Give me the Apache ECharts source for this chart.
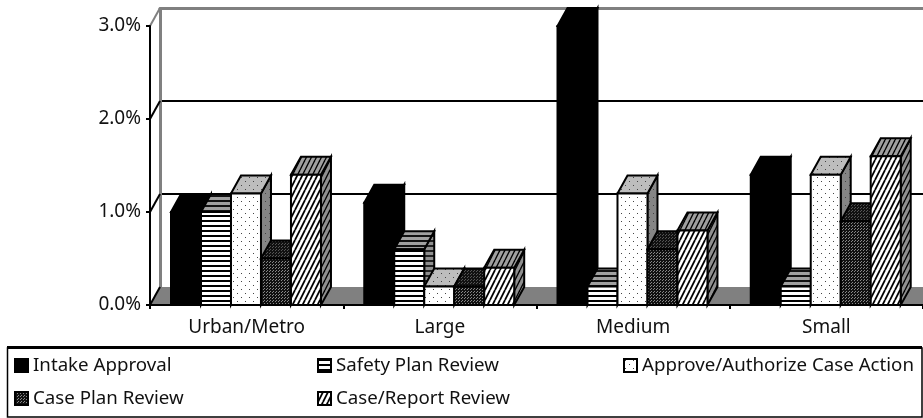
<!DOCTYPE html>
<html>
<head>
<meta charset="utf-8">
<style>html,body{margin:0;padding:0;background:#fff;overflow:hidden}#chart{width:923px;height:418px}</style>
<script src="https://cdn.jsdelivr.net/npm/echarts@6/dist/echarts.min.js"></script>
</head>
<body>
<div id="chart"></div>
<script>
// Review rates by county size, in percent
const categories = ['Urban/Metro', 'Large', 'Medium', 'Small'];
const intakeApproval = [1.0, 1.1, 3.0, 1.4];
const safetyPlanReview = [1.0, 0.6, 0.2, 0.2];
const approveAuthorize = [1.2, 0.2, 1.2, 1.4];
const casePlanReview = [0.5, 0.2, 0.6, 0.9];
const caseReportReview = [1.4, 0.4, 0.8, 1.6];
const yTicks = [0, 1, 2, 3];

const FONT = 'Noto Sans';
const AXIS_FONT_SIZE = 19;
const LEGEND_FONT_SIZE = 18.7;

// Oblique extrusion of the 3D box look
const DEPTH_X = 10;
const DEPTH_Y = -18;
const BAR_SHARE = 0.1552;
const SIDE_MARGIN = 0.1087;

function tile(w, h, bg, paint) {
  const c = document.createElement('canvas');
  c.width = w; c.height = h;
  const g = c.getContext('2d');
  g.fillStyle = bg; g.fillRect(0, 0, w, h);
  g.fillStyle = '#000';
  paint(g);
  return { image: c, repeat: 'repeat' };
}
function stripes(bg, ink) {
  return tile(5, 5, bg, g => { g.fillStyle = ink; g.fillRect(0, 0, 5, 2); });
}
function dots(bg) {
  return tile(8, 8, bg, g => { g.fillStyle = '#444'; g.fillRect(1, 1, 1, 1); g.fillRect(5, 5, 1, 1); });
}
function dense(bg) {
  return tile(3, 3, '#111', g => { g.fillStyle = bg; g.fillRect(0, 0, 1, 1); g.fillRect(2, 1, 1, 1); });
}
function hatch(bg, width) {
  const c = document.createElement('canvas');
  c.width = 5; c.height = 10;
  const g = c.getContext('2d');
  g.fillStyle = bg; g.fillRect(0, 0, 5, 10);
  g.strokeStyle = '#000'; g.lineWidth = width;
  for (let k = -5; k <= 5; k += 5) {
    g.beginPath(); g.moveTo(k, 10); g.lineTo(k + 5, 0); g.stroke();
  }
  return { image: c, repeat: 'repeat' };
}

const solid = '#000';
const seriesDefs = [
  { name: 'Intake Approval', values: intakeApproval, front: solid, top: solid, side: solid },
  { name: 'Safety Plan Review', values: safetyPlanReview, front: stripes('#fff', '#000'), top: stripes('#a0a0a0', '#111'), side: stripes('#909090', '#222') },
  { name: 'Approve/Authorize Case Action', values: approveAuthorize, front: dots('#fff'), top: dots('#bdbdbd'), side: dots('#858585') },
  { name: 'Case Plan Review', values: casePlanReview, front: dense('#888'), top: dense('#555'), side: dense('#555') },
  { name: 'Case/Report Review', values: caseReportReview, front: hatch('#fff', 1.8), top: hatch('#a0a0a0', 1.4), side: hatch('#909090', 1.4) }
];

const legendSpots = [
  { left: 14, top: 356 }, { left: 317, top: 356 }, { left: 623, top: 356 },
  { left: 14, top: 389 }, { left: 317, top: 389 }
];

function boxRenderer(index, def) {
  return function (params, api) {
    const base = api.coord([api.value(0), 0]);
    const head = api.coord([api.value(0), api.value(1)]);
    const band = api.size([1, 0])[0];
    const w = band * BAR_SHARE;
    const x = base[0] - band / 2 + band * SIDE_MARGIN + index * w;
    const y = head[1];
    const line = { stroke: '#000', lineWidth: 2, lineJoin: 'miter' };
    return {
      type: 'group',
      children: [
        { type: 'polygon', shape: { points: [[x + w, y], [x + w + DEPTH_X, y + DEPTH_Y], [x + w + DEPTH_X, base[1] + DEPTH_Y], [x + w, base[1]]] },
          style: Object.assign({ fill: def.side }, line) },
        { type: 'polygon', shape: { points: [[x, y], [x + DEPTH_X, y + DEPTH_Y], [x + w + DEPTH_X, y + DEPTH_Y], [x + w, y]] },
          style: Object.assign({ fill: def.top }, line) },
        { type: 'rect', shape: { x: x, y: y, width: w, height: base[1] - y },
          style: Object.assign({ fill: def.front }, line) }
      ]
    };
  };
}

const barSeries = seriesDefs.map((def, i) => ({
  type: 'custom',
  name: def.name,
  xAxisIndex: 0,
  yAxisIndex: 0,
  z: 2,
  itemStyle: { color: def.front },
  encode: { x: 0, y: 1 },
  data: def.values.map((v, c) => [c, v]),
  renderItem: boxRenderer(i, def)
}));

// Grey floor of the box
const floorSeries = {
  type: 'custom',
  xAxisIndex: 0,
  yAxisIndex: 0,
  z: 1,
  silent: true,
  data: [[0, 0]],
  renderItem: function (params, api) {
    const band = api.size([1, 0])[0];
    const left = api.coord([0, 0]);
    const right = api.coord([categories.length - 1, 0]);
    const x0 = left[0] - band / 2;
    const x1 = right[0] + band / 2;
    return {
      type: 'polygon',
      shape: { points: [[x0, left[1]], [x0 + DEPTH_X, left[1] + DEPTH_Y], [x1 + DEPTH_X, left[1] + DEPTH_Y], [x1, left[1]]] },
      style: { fill: '#808080' }
    };
  }
};

// Short slanted connectors from the front axis ticks to the back wall
const stubSeries = {
  type: 'custom',
  xAxisIndex: 0,
  yAxisIndex: 0,
  z: 1,
  silent: true,
  data: yTicks.map(v => [0, v]),
  renderItem: function (params, api) {
    const band = api.size([1, 0])[0];
    const p = api.coord([0, api.value(1)]);
    const x0 = p[0] - band / 2;
    return {
      type: 'line',
      shape: { x1: x0, y1: p[1], x2: x0 + DEPTH_X, y2: p[1] + DEPTH_Y },
      style: { stroke: api.value(1) === 3 ? '#808080' : '#000', lineWidth: 2 }
    };
  }
};

const option = {
  animation: false,
  backgroundColor: '#fff',
  textStyle: { fontFamily: FONT, color: '#111' },
  grid: [
    { left: 150, top: 26, width: 773, height: 279 },
    { left: 160, top: 8.5, width: 773, height: 278 }
  ],
  xAxis: [
    {
      gridIndex: 0, type: 'category', data: categories, z: 5,
      axisLine: { lineStyle: { color: '#000', width: 2 } },
      axisTick: { show: true, length: 4, alignWithLabel: false, lineStyle: { color: '#000', width: 2 } },
      axisLabel: { color: '#111', fontFamily: FONT, fontSize: AXIS_FONT_SIZE, margin: 13 }
    },
    {
      gridIndex: 1, type: 'category', data: categories, position: 'top', z: 1,
      axisLine: { onZero: false, lineStyle: { color: '#808080', width: 3 } },
      axisTick: { show: false }, axisLabel: { show: false }, splitLine: { show: false }
    }
  ],
  yAxis: [
    {
      gridIndex: 0, type: 'value', min: 0, max: 3, interval: 1, z: 5,
      axisLine: { show: true, lineStyle: { color: '#000', width: 2 } },
      axisTick: { show: true, length: 4, lineStyle: { color: '#000', width: 2 } },
      axisLabel: { color: '#111', fontFamily: FONT, fontSize: AXIS_FONT_SIZE, margin: 9, formatter: v => v.toFixed(1) + '%' },
      splitLine: { show: false }
    },
    {
      gridIndex: 1, type: 'value', min: 0, max: 3, interval: 1,
      axisLine: { show: true, lineStyle: { color: '#808080', width: 3 } },
      axisTick: { show: false }, axisLabel: { show: false },
      splitLine: { show: true, showMinLine: false, showMaxLine: false, lineStyle: { color: '#000', width: 2 } }
    }
  ],
  legend: seriesDefs.map((def, i) => ({
    data: [def.name],
    left: legendSpots[i].left,
    top: legendSpots[i].top,
    padding: 0,
    icon: 'rect',
    itemWidth: 13,
    itemHeight: 13,
    selectedMode: false,
    itemStyle: { color: def.front, borderColor: '#000', borderWidth: 2 },
    textStyle: { color: '#111', fontFamily: FONT, fontSize: LEGEND_FONT_SIZE, padding: 0 }
  })),
  graphic: [
    { type: 'rect', shape: { x: 7.5, y: 348, width: 914.5, height: 69 },
      style: { fill: 'none', stroke: '#000', lineWidth: 1.5 }, z: 10 },
    { type: 'line', shape: { x1: 7, y1: 347.5, x2: 922, y2: 347.5 },
      style: { stroke: '#000', lineWidth: 3 }, z: 10 }
  ],
  series: [floorSeries, stubSeries].concat(barSeries)
};

const chart = echarts.init(document.getElementById('chart'), null, { renderer: 'canvas' });
chart.setOption(option);
</script>
</body>
</html>
